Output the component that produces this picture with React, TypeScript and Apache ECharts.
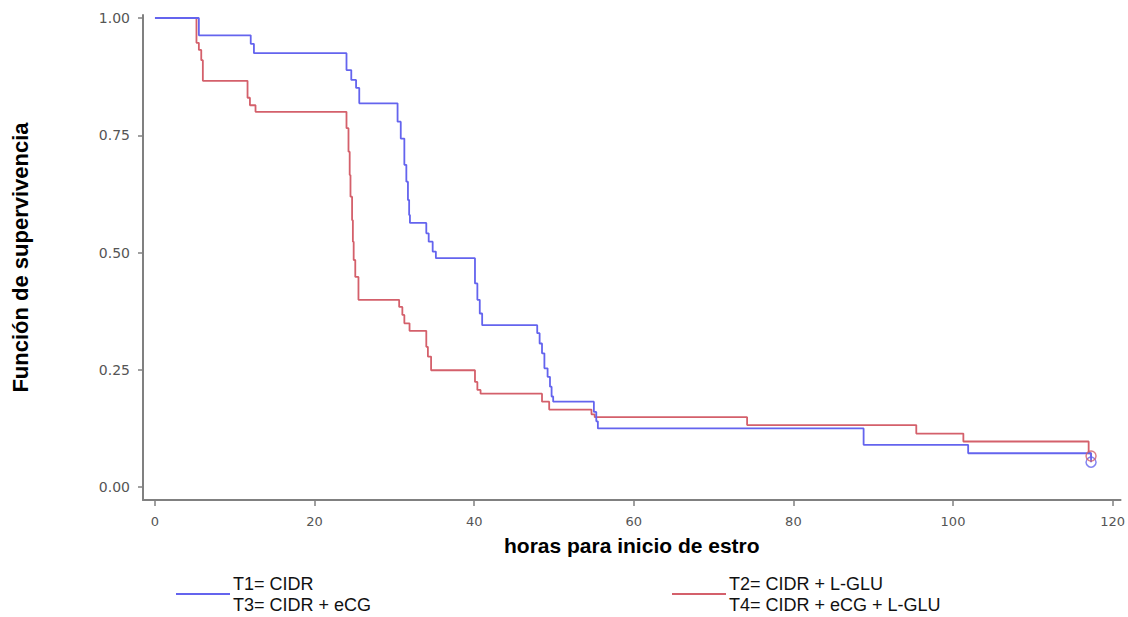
import React, { useEffect, useRef } from "react";
import * as echarts from "echarts";

// Kaplan-Meier step points (time in hours, survival after the event)
const blueTimes = [0, 5.5, 12.0, 12.4, 24.0, 24.6, 25.2, 25.6, 30.4, 30.8, 31.25, 31.5, 31.7, 31.85, 31.95, 34.0, 34.3, 34.8, 35.2, 40.1, 40.4, 40.7, 41.0, 47.9, 48.2, 48.5, 48.8, 49.2, 49.5, 49.7, 49.9, 55.0, 55.3, 55.5, 88.8, 101.9, 117.2, 117.3];
const blueSurv = [1.0, 0.963, 0.945, 0.925, 0.889, 0.868, 0.851, 0.818, 0.779, 0.743, 0.687, 0.651, 0.612, 0.58, 0.563, 0.541, 0.523, 0.502, 0.488, 0.434, 0.399, 0.37, 0.345, 0.328, 0.306, 0.285, 0.253, 0.235, 0.214, 0.193, 0.182, 0.16, 0.14, 0.125, 0.09, 0.072, 0.072, 0.053];

const redTimes = [0, 5.2, 5.5, 5.8, 6.0, 11.6, 11.9, 12.6, 24.0, 24.25, 24.4, 24.5, 24.7, 24.8, 24.9, 25.1, 25.5, 30.6, 31.0, 31.25, 31.9, 34.0, 34.2, 34.6, 40.1, 40.4, 40.8, 48.5, 49.4, 54.7, 55.1, 74.2, 95.4, 101.3, 117.0, 117.3];
const redSurv = [1.0, 0.947, 0.932, 0.91, 0.866, 0.83, 0.814, 0.8, 0.765, 0.715, 0.665, 0.619, 0.569, 0.523, 0.484, 0.448, 0.399, 0.384, 0.367, 0.349, 0.333, 0.299, 0.278, 0.249, 0.224, 0.207, 0.199, 0.182, 0.165, 0.155, 0.149, 0.132, 0.114, 0.097, 0.072, 0.065];

// censored markers at the end of follow-up
const blueCensor = [[117.3, 0.053]];
const redCensor = [[117.3, 0.066]];

const xTicks = [0, 20, 40, 60, 80, 100, 120];
const yTicks = [0, 0.25, 0.5, 0.75, 1.0];

const blueName = "T1= CIDR\nT3= CIDR + eCG";
const redName = "T2= CIDR + L-GLU\nT4= CIDR + eCG + L-GLU";

const BLUE = "#6464ee";
const RED = "#d4606b";

export default function App() {
  const ref = useRef<HTMLDivElement>(null);
  useEffect(() => {
    if (!ref.current) return;
    const chart = echarts.init(ref.current, undefined, { renderer: "svg" });
    const zip = (t: number[], s: number[]) => t.map((v, i) => [v, s[i]]);
    const legendText = {
      fontSize: 18,
      color: "#111",
      lineHeight: 21,
      padding: [0, 0, 0, -2],
      fontFamily: "Liberation Sans, Arial, sans-serif",
    };
    chart.setOption({
      animation: false,
      backgroundColor: "#ffffff",
      textStyle: { fontFamily: "Liberation Sans, Arial, sans-serif" },
      grid: { left: 143, right: 5, top: 15, bottom: 117, containLabel: false },
      legend: [
        {
          data: [blueName],
          left: 176,
          top: 573,
          padding: 0,
          icon: "rect",
          itemWidth: 54,
          itemHeight: 2,
          textStyle: legendText,
          selectedMode: false,
        },
        {
          data: [redName],
          left: 672,
          top: 573,
          padding: 0,
          icon: "rect",
          itemWidth: 54,
          itemHeight: 2,
          textStyle: legendText,
          selectedMode: false,
        },
      ],
      xAxis: {
        type: "value",
        min: -1.5,
        max: 121,
        name: "horas para inicio de estro",
        nameLocation: "middle",
        nameGap: 35,
        nameTextStyle: { fontSize: 21, fontWeight: "bold", color: "#000" },
        axisLine: { show: true, onZero: false, lineStyle: { color: "#808080", width: 2 } },
        axisTick: { show: true, customValues: xTicks, length: 6, lineStyle: { color: "#808080", width: 1.5 } },
        axisLabel: { customValues: xTicks, fontSize: 13, color: "#555", margin: 15, fontFamily: "DejaVu Sans" },
        splitLine: { show: false },
      },
      yAxis: {
        type: "value",
        min: -0.0277,
        max: 1.0064,
        name: "Función de supervivencia",
        nameLocation: "middle",
        nameGap: 112,
        nameTextStyle: { fontSize: 22, fontWeight: "bold", color: "#000" },
        axisLine: { show: true, onZero: false, lineStyle: { color: "#808080", width: 2 } },
        axisTick: { show: true, customValues: yTicks, length: 5, lineStyle: { color: "#808080", width: 1.5 } },
        axisLabel: {
          customValues: yTicks,
          fontSize: 14,
          color: "#555",
          margin: 13,
          fontFamily: "DejaVu Sans",
          formatter: (v: number) => v.toFixed(2),
        },
        splitLine: { show: false },
      },
      series: [
        {
          name: blueName,
          type: "line",
          step: "end",
          symbol: "none",
          data: zip(blueTimes, blueSurv),
          lineStyle: { color: BLUE, width: 1.8 },
          itemStyle: { color: BLUE },
          z: 3,
        },
        {
          name: redName,
          type: "line",
          step: "end",
          symbol: "none",
          data: zip(redTimes, redSurv),
          lineStyle: { color: RED, width: 1.8 },
          itemStyle: { color: RED },
          z: 2,
        },
        {
          name: "blueCensor",
          type: "scatter",
          symbol: "circle",
          symbolSize: 10,
          data: blueCensor,
          itemStyle: { color: "rgba(0,0,0,0)", borderColor: BLUE, borderWidth: 1.5 },
          z: 4,
        },
        {
          name: "redCensor",
          type: "scatter",
          symbol: "circle",
          symbolSize: 10,
          data: redCensor,
          itemStyle: { color: "rgba(0,0,0,0)", borderColor: RED, borderWidth: 1.5 },
          z: 4,
        },
      ],
    });
    return () => chart.dispose();
  }, []);
  return (
    <div
      ref={ref}
      style={{ position: "fixed", left: 0, top: 0, width: 1128, height: 617, background: "#fff" }}
    />
  );
}
